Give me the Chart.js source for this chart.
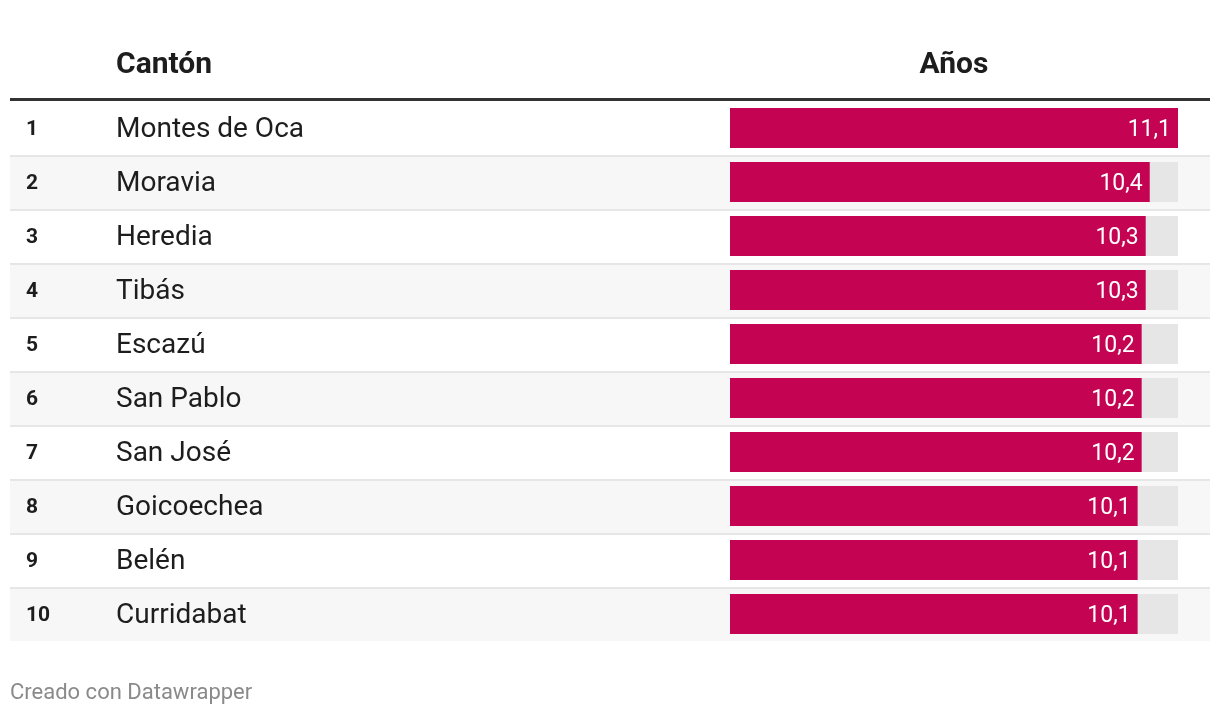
<!DOCTYPE html>
<html>
<head>
<meta charset="utf-8">
<script src="https://cdn.jsdelivr.net/npm/chart.js@4"></script>
<style>
  html, body { margin: 0; padding: 0; background: #ffffff; }
  #wrap { position: relative; width: 1220px; height: 716px; }
</style>
</head>
<body>
<div id="wrap"><canvas id="c"></canvas></div>
<script>
const ranks = ['1', '2', '3', '4', '5', '6', '7', '8', '9', '10'];
const cantones = ['Montes de Oca', 'Moravia', 'Heredia', 'Tibás', 'Escazú', 'San Pablo', 'San José', 'Goicoechea', 'Belén', 'Curridabat'];
const anos = [11.1, 10.4, 10.3, 10.3, 10.2, 10.2, 10.2, 10.1, 10.1, 10.1];
const fondo = [11.1, 11.1, 11.1, 11.1, 11.1, 11.1, 11.1, 11.1, 11.1, 11.1];
const headers = ['Cantón', 'Años'];
const footer = 'Creado con Datawrapper';

const FONT = 'Roboto, "Noto Sans", sans-serif';
const fmt = v => v.toFixed(1).replace('.', ',');

const tablePlugin = {
  id: 'tablePlugin',
  beforeDatasetsDraw(chart) {
    const ctx = chart.ctx;
    const y = chart.scales.y;
    const ca = chart.chartArea;
    const rowH = (ca.bottom - ca.top) / cantones.length;
    ctx.save();
    cantones.forEach((c, i) => {
      const top = y.getPixelForValue(i) - rowH / 2;
      if (i % 2 === 1) {
        ctx.fillStyle = '#f7f7f7';
        ctx.fillRect(10, top, 1200, rowH);
      }
      if (i > 0) {
        ctx.fillStyle = '#e6e6e6';
        ctx.fillRect(10, top, 1200, 2);
      }
    });
    // header rule
    ctx.fillStyle = '#333333';
    ctx.fillRect(10, ca.top - 3, 1200, 3);
    ctx.restore();
  },
  afterDatasetsDraw(chart) {
    const ctx = chart.ctx;
    const y = chart.scales.y;
    const ca = chart.chartArea;
    const meta = chart.getDatasetMeta(1);
    ctx.save();
    ctx.textBaseline = 'middle';
    // header
    ctx.fillStyle = '#1d1d1d';
    ctx.font = 'bold 30px ' + FONT;
    ctx.textAlign = 'left';
    ctx.fillText(headers[0], 116, 65);
    ctx.textAlign = 'center';
    ctx.fillText(headers[1], (ca.left + ca.right) / 2, 65);
    cantones.forEach((c, i) => {
      const cy = y.getPixelForValue(i) + 2;
      ctx.textAlign = 'left';
      ctx.fillStyle = '#1d1d1d';
      ctx.font = 'bold 21px ' + FONT;
      ctx.fillText(ranks[i], 26, cy);
      ctx.font = '28px ' + FONT;
      ctx.fillText(c, 116, cy);
      const bar = meta.data[i];
      ctx.textAlign = 'right';
      ctx.fillStyle = '#ffffff';
      ctx.font = '23px ' + FONT;
      ctx.fillText(fmt(anos[i]), bar.x - 7, cy);
    });
    ctx.textAlign = 'left';
    ctx.fillStyle = '#8a8a8a';
    ctx.font = '22px ' + FONT;
    ctx.fillText(footer, 10, 693);
    ctx.restore();
  }
};

new Chart(document.getElementById('c'), {
  type: 'bar',
  data: {
    labels: cantones,
    datasets: [
      { label: 'fondo', data: fondo, backgroundColor: '#e6e6e6', order: 2 },
      { label: 'Años', data: anos, backgroundColor: '#c40352', order: 1 }
    ]
  },
  options: {
    indexAxis: 'y',
    responsive: true,
    maintainAspectRatio: false,
    animation: false,
    layout: { padding: { left: 730, right: 42, top: 101, bottom: 75 } },
    datasets: { bar: { grouped: false, categoryPercentage: 1, barPercentage: 40 / 54, borderWidth: 0 } },
    scales: {
      x: { display: false, min: 0, max: 11.1 },
      y: { display: false }
    },
    plugins: { legend: { display: false }, tooltip: { enabled: false } }
  },
  plugins: [tablePlugin]
});
</script>
</body>
</html>
